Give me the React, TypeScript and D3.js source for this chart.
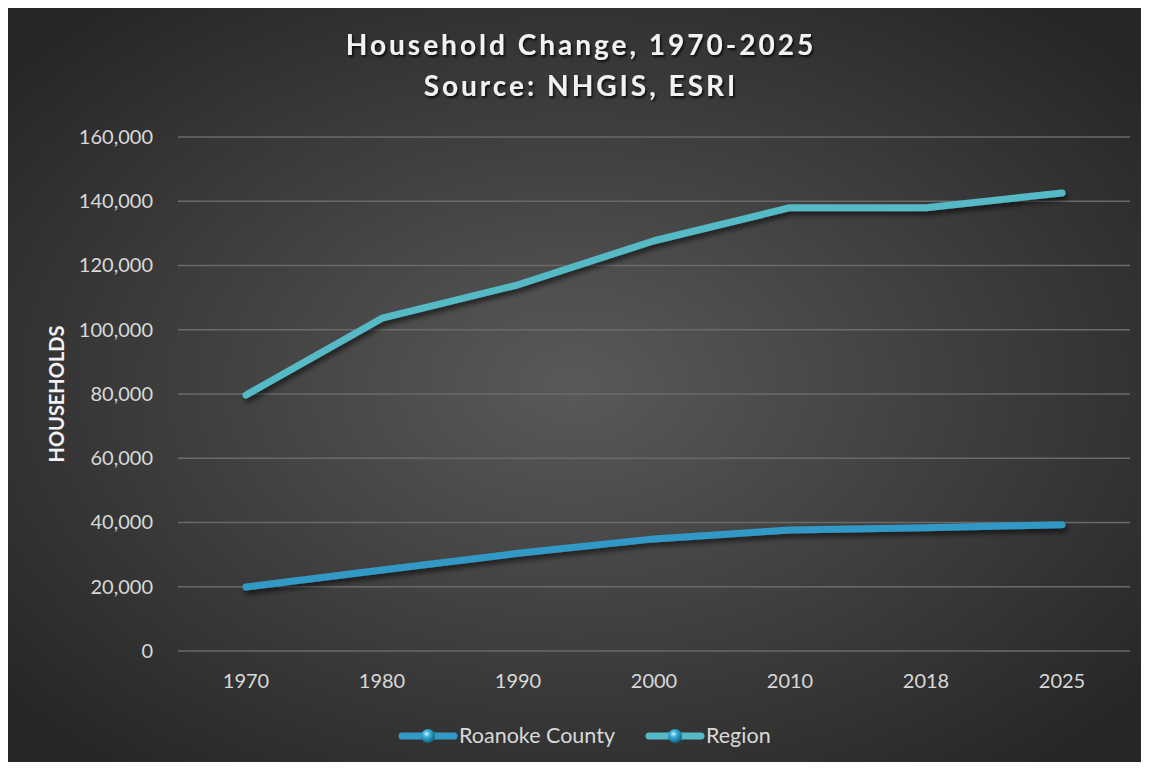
import React, { useEffect, useRef } from "react";
import * as d3 from "d3";

const years = ["1970", "1980", "1990", "2000", "2010", "2018", "2025"];
const roanoke = [19900, 25200, 30400, 34900, 37700, 38400, 39300];
const region = [79700, 103600, 114000, 127700, 138000, 138000, 142600];
const yTicks = [0, 20000, 40000, 60000, 80000, 100000, 120000, 140000, 160000];
const seriesNames = ["Roanoke County", "Region"];
const seriesColors = ["#3399c6", "#55bac6"];

const App = () => {
  const svgRef = useRef<SVGSVGElement>(null);

  useEffect(() => {
    const width = 1149;
    const height = 770;
    const margin = { top: 137, right: 19, bottom: 119, left: 178 };

    const root = d3.select(svgRef.current);
    root.selectAll("*").remove();
    root.attr("width", width).attr("height", height);

    const defs = root.append("defs");
    const bg = defs
      .append("radialGradient")
      .attr("id", "bg")
      .attr("cx", "50%")
      .attr("cy", "50%")
      .attr("r", "65%");
    bg.append("stop").attr("offset", "0%").attr("stop-color", "#595959");
    bg.append("stop").attr("offset", "100%").attr("stop-color", "#262626");

    const shadow = defs.append("filter").attr("id", "shadow").attr("x", "-10%").attr("y", "-30%").attr("width", "120%").attr("height", "160%");
    shadow
      .append("feDropShadow")
      .attr("dx", 2)
      .attr("dy", 4)
      .attr("stdDeviation", 2.5)
      .attr("flood-color", "#000")
      .attr("flood-opacity", 0.55);

    const tshadow = defs.append("filter").attr("id", "tshadow");
    tshadow
      .append("feDropShadow")
      .attr("dx", 1.5)
      .attr("dy", 2)
      .attr("stdDeviation", 1.2)
      .attr("flood-color", "#000")
      .attr("flood-opacity", 0.8);

    const ball = defs.append("radialGradient").attr("id", "ball").attr("cx", "40%").attr("cy", "35%").attr("r", "60%");
    ball.append("stop").attr("offset", "0%").attr("stop-color", "#d8f4ff");
    ball.append("stop").attr("offset", "35%").attr("stop-color", "#3fb6e0");
    ball.append("stop").attr("offset", "100%").attr("stop-color", "#136a8c");

    root
      .append("rect")
      .attr("x", 4)
      .attr("y", 6)
      .attr("width", 1140)
      .attr("height", 758)
      .attr("fill", "url(#bg)");

    const font = "Lato, 'Open Sans', sans-serif";

    // Title
    const title = root
      .append("text")
      .attr("x", 581)
      .attr("text-anchor", "middle")
      .attr("fill", "#f2f2f2")
      .attr("font-family", font)
      .attr("font-weight", "bold")
      .attr("font-size", 28)
      .attr("letter-spacing", 3)
      .attr("filter", "url(#tshadow)");
    title.append("tspan").attr("x", 581).attr("y", 55).text("Household Change, 1970-2025");
    title.append("tspan").attr("x", 581).attr("y", 96).text("Source: NHGIS, ESRI");

    const x = d3
      .scaleBand()
      .domain(years)
      .range([margin.left, width - margin.right]);

    const y = d3
      .scaleLinear()
      .domain([0, 160000])
      .range([height - margin.bottom, margin.top]);

    // Grid lines
    root
      .append("g")
      .selectAll("line")
      .data(yTicks)
      .enter()
      .append("line")
      .attr("x1", margin.left)
      .attr("x2", width - margin.right)
      .attr("y1", (d) => y(d))
      .attr("y2", (d) => y(d))
      .attr("stroke", "#6a6a6a")
      .attr("stroke-width", 1.3);

    // Y axis labels
    const yAxis = root
      .append("g")
      .attr("transform", `translate(${margin.left - 22},0)`)
      .call(d3.axisLeft(y).tickValues(yTicks).tickSize(0).tickFormat(d3.format(",")));
    yAxis.select(".domain").remove();
    yAxis
      .selectAll("text")
      .attr("fill", "#d9d9d9")
      .attr("font-family", font)
      .attr("font-size", 20);

    // X axis labels
    const xAxis = root
      .append("g")
      .attr("transform", `translate(0,${height - margin.bottom + 20})`)
      .call(d3.axisBottom(x).tickSize(0));
    xAxis.select(".domain").remove();
    xAxis
      .selectAll("text")
      .attr("fill", "#d9d9d9")
      .attr("font-family", font)
      .attr("font-size", 20);

    // Y axis title
    root
      .append("text")
      .attr("transform", `translate(64,${(margin.top + height - margin.bottom) / 2}) rotate(-90)`)
      .attr("text-anchor", "middle")
      .attr("fill", "#f2f2f2")
      .attr("font-family", font)
      .attr("font-weight", "bold")
      .attr("font-size", 20)
      .text("HOUSEHOLDS");

    const line = d3
      .line<number>()
      .x((_, i) => (x(years[i]) as number) + x.bandwidth() / 2)
      .y((d) => y(d));

    [roanoke, region].forEach((vals, i) => {
      root
        .append("path")
        .datum(vals)
        .attr("d", line)
        .attr("fill", "none")
        .attr("stroke", seriesColors[i])
        .attr("stroke-width", 7)
        .attr("stroke-linecap", "round")
        .attr("stroke-linejoin", "round")
        .attr("filter", "url(#shadow)");
    });

    // Legend
    const legendItems = [
      { name: seriesNames[0], color: seriesColors[0], x0: 400 },
      { name: seriesNames[1], color: seriesColors[1], x0: 647 },
    ];
    const ly = 736;
    legendItems.forEach((item) => {
      const g = root.append("g");
      g.append("line")
        .attr("x1", item.x0 + 2)
        .attr("x2", item.x0 + 54)
        .attr("y1", ly)
        .attr("y2", ly)
        .attr("stroke", item.color)
        .attr("stroke-width", 7)
        .attr("stroke-linecap", "round");
      g.append("circle")
        .attr("cx", item.x0 + 28)
        .attr("cy", ly)
        .attr("r", 7)
        .attr("fill", "url(#ball)");
      g.append("text")
        .attr("x", item.x0 + 59)
        .attr("y", ly + 7)
        .attr("fill", "#d9d9d9")
        .attr("font-family", font)
        .attr("font-size", 21.5)
        .text(item.name);
    });
  }, []);

  return (
    <div style={{ margin: -8 }}>
      <svg ref={svgRef} style={{ display: "block" }}></svg>
    </div>
  );
};

export default App;
